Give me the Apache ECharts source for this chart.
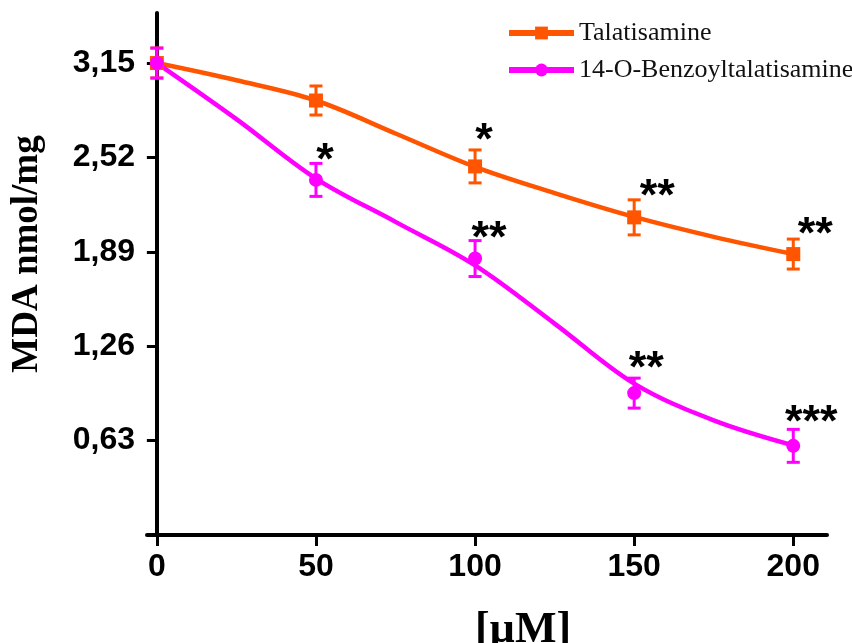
<!DOCTYPE html>
<html>
<head>
<meta charset="utf-8">
<script src="https://cdn.jsdelivr.net/npm/echarts@6/dist/echarts.min.js"></script>
<style>
html,body{margin:0;padding:0;background:#fff;}
#chart{width:852px;height:643px;}
</style>
</head>
<body>
<div id="chart"></div>
<script>
// ---- data ----
const doses = [0, 50, 100, 150, 200];
const talMean = [3.15, 2.90, 2.46, 2.12, 1.875];
const talSem = [0.10, 0.097, 0.11, 0.117, 0.10];
const benMean = [3.15, 2.37, 1.845, 0.947, 0.595];
const benSem = [0.10, 0.11, 0.12, 0.10, 0.11];
const fitDoses = [0, 25, 50, 75, 100, 125, 150, 175, 200];
const talFit = [3.15, 3.035, 2.90, 2.68, 2.457, 2.282, 2.123, 1.99, 1.875];
const benFit = [3.15, 2.776, 2.379, 2.09, 1.80, 1.411, 1.010, 0.765, 0.598];
const talStars = ['', '', '*', '**', '**'];
const benStars = ['', '*', '**', '**', '***'];
const xTicks = [0, 50, 100, 150, 200];
const yTicks = [0.63, 1.26, 1.89, 2.52, 3.15];
const seriesNames = ['Talatisamine', '14-O-Benzoyltalatisamine'];
const xTitle = '[µM]';
const yTitle = 'MDA nmol/mg';

// ---- styling / layout ----
const ORANGE = '#FF5500';
const PINK = '#FF00FF';
const SANS = '"Liberation Sans", Arial, sans-serif';
const SERIF = '"Liberation Serif", "Times New Roman", serif';
const talStarOffset = [[0,0],[0,0],[9,-34],[23,-29],[22,-27]];
const benStarOffset = [[0,0],[9,-27],[14,-28],[12,-33],[18,-31]];
const STAR_DY = 9;

function errorSeries(name, mean, sem, color) {
  return {
    name: name,
    type: 'custom',
    z: 3,
    data: doses.map((d, i) => [d, mean[i], sem[i]]),
    encode: { x: 0, y: 1 },
    renderItem: function (params, api) {
      const x = api.value(0), m = api.value(1), e = api.value(2);
      const top = api.coord([x, m + e]);
      const bot = api.coord([x, m - e]);
      const w = 6.5;
      const st = { stroke: color, lineWidth: 3 };
      return {
        type: 'group',
        children: [
          { type: 'line', shape: { x1: top[0], y1: top[1], x2: bot[0], y2: bot[1] }, style: st },
          { type: 'line', shape: { x1: top[0] - w, y1: top[1], x2: top[0] + w, y2: top[1] }, style: st },
          { type: 'line', shape: { x1: bot[0] - w, y1: bot[1], x2: bot[0] + w, y2: bot[1] }, style: st }
        ]
      };
    }
  };
}

function markerSeries(name, mean, stars, offsets, color, symbol) {
  return {
    name: name,
    type: 'scatter',
    z: 4,
    symbol: symbol,
    symbolSize: 14,
    itemStyle: { color: color, opacity: 1 },
    data: doses.map((d, i) => ({
      value: [d, mean[i]],
      label: {
        show: stars[i] !== '',
        formatter: stars[i],
        position: 'inside',
        offset: [offsets[i][0], offsets[i][1] + STAR_DY],
        color: '#000',
        fontFamily: SANS,
        fontWeight: 'bold',
        fontSize: 45
      }
    })),
    emphasis: { disabled: true }
  };
}

function fitSeries(name, fit, color, symbol) {
  return {
    name: name,
    type: 'line',
    z: 2,
    smooth: 0.35,
    symbol: symbol,
    symbolSize: 14,
    showSymbol: false,
    lineStyle: { color: color, width: 4.5 },
    itemStyle: { color: color },
    data: fitDoses.map((d, i) => [d, fit[i]]),
    emphasis: { disabled: true }
  };
}

const chart = echarts.init(document.getElementById('chart'), null, { renderer: 'canvas' });
chart.setOption({
  animation: false,
  backgroundColor: '#fff',
  grid: { left: 147, right: 25, top: 13, bottom: 108, containLabel: false, outerBoundsMode: 'none' },
  legend: {
    orient: 'vertical',
    left: 506,
    top: 20,
    padding: 0,
    itemWidth: 65,
    itemHeight: 16,
    itemGap: 11,
    data: seriesNames,
    lineStyle: { width: 6 },
    textStyle: { fontFamily: SERIF, fontSize: 26, color: '#111' }
  },
  xAxis: {
    type: 'value',
    min: -3.1,
    max: 210.6,
    splitLine: { show: false },
    axisLine: { lineStyle: { color: '#000', width: 4 } },
    axisTick: { length: 11, lineStyle: { color: '#000', width: 3 }, customValues: xTicks },
    axisLabel: { customValues: xTicks, margin: 16, color: '#000', fontFamily: SANS, fontWeight: 'bold', fontSize: 32 },
    name: xTitle,
    nameLocation: 'middle',
    nameGap: 74,
    nameTextStyle: { fontFamily: SERIF, fontWeight: 'bold', fontSize: 44, color: '#000', padding: [0, 0, 0, 72] }
  },
  yAxis: {
    type: 'value',
    min: 0,
    max: 3.484,
    splitLine: { show: false },
    axisLine: { onZero: true, lineStyle: { color: '#000', width: 4 } },
    axisTick: { length: 10, lineStyle: { color: '#000', width: 3 }, customValues: yTicks },
    axisLabel: {
      customValues: yTicks,
      margin: 12,
      color: '#000',
      fontFamily: SANS,
      fontWeight: 'bold',
      fontSize: 32,
      formatter: v => v.toFixed(2).replace('.', ',')
    },
    name: yTitle,
    nameLocation: 'middle',
    nameGap: 101,
    nameTextStyle: { fontFamily: SERIF, fontWeight: 'bold', fontSize: 37, color: '#000', padding: [0, 0, 0, 40] }
  },
  series: [
    fitSeries(seriesNames[0], talFit, ORANGE, 'rect'),
    fitSeries(seriesNames[1], benFit, PINK, 'circle'),
    errorSeries(seriesNames[0], talMean, talSem, ORANGE),
    markerSeries(seriesNames[0], talMean, talStars, talStarOffset, ORANGE, 'rect'),
    errorSeries(seriesNames[1], benMean, benSem, PINK),
    markerSeries(seriesNames[1], benMean, benStars, benStarOffset, PINK, 'circle')
  ]
});
</script>
</body>
</html>
